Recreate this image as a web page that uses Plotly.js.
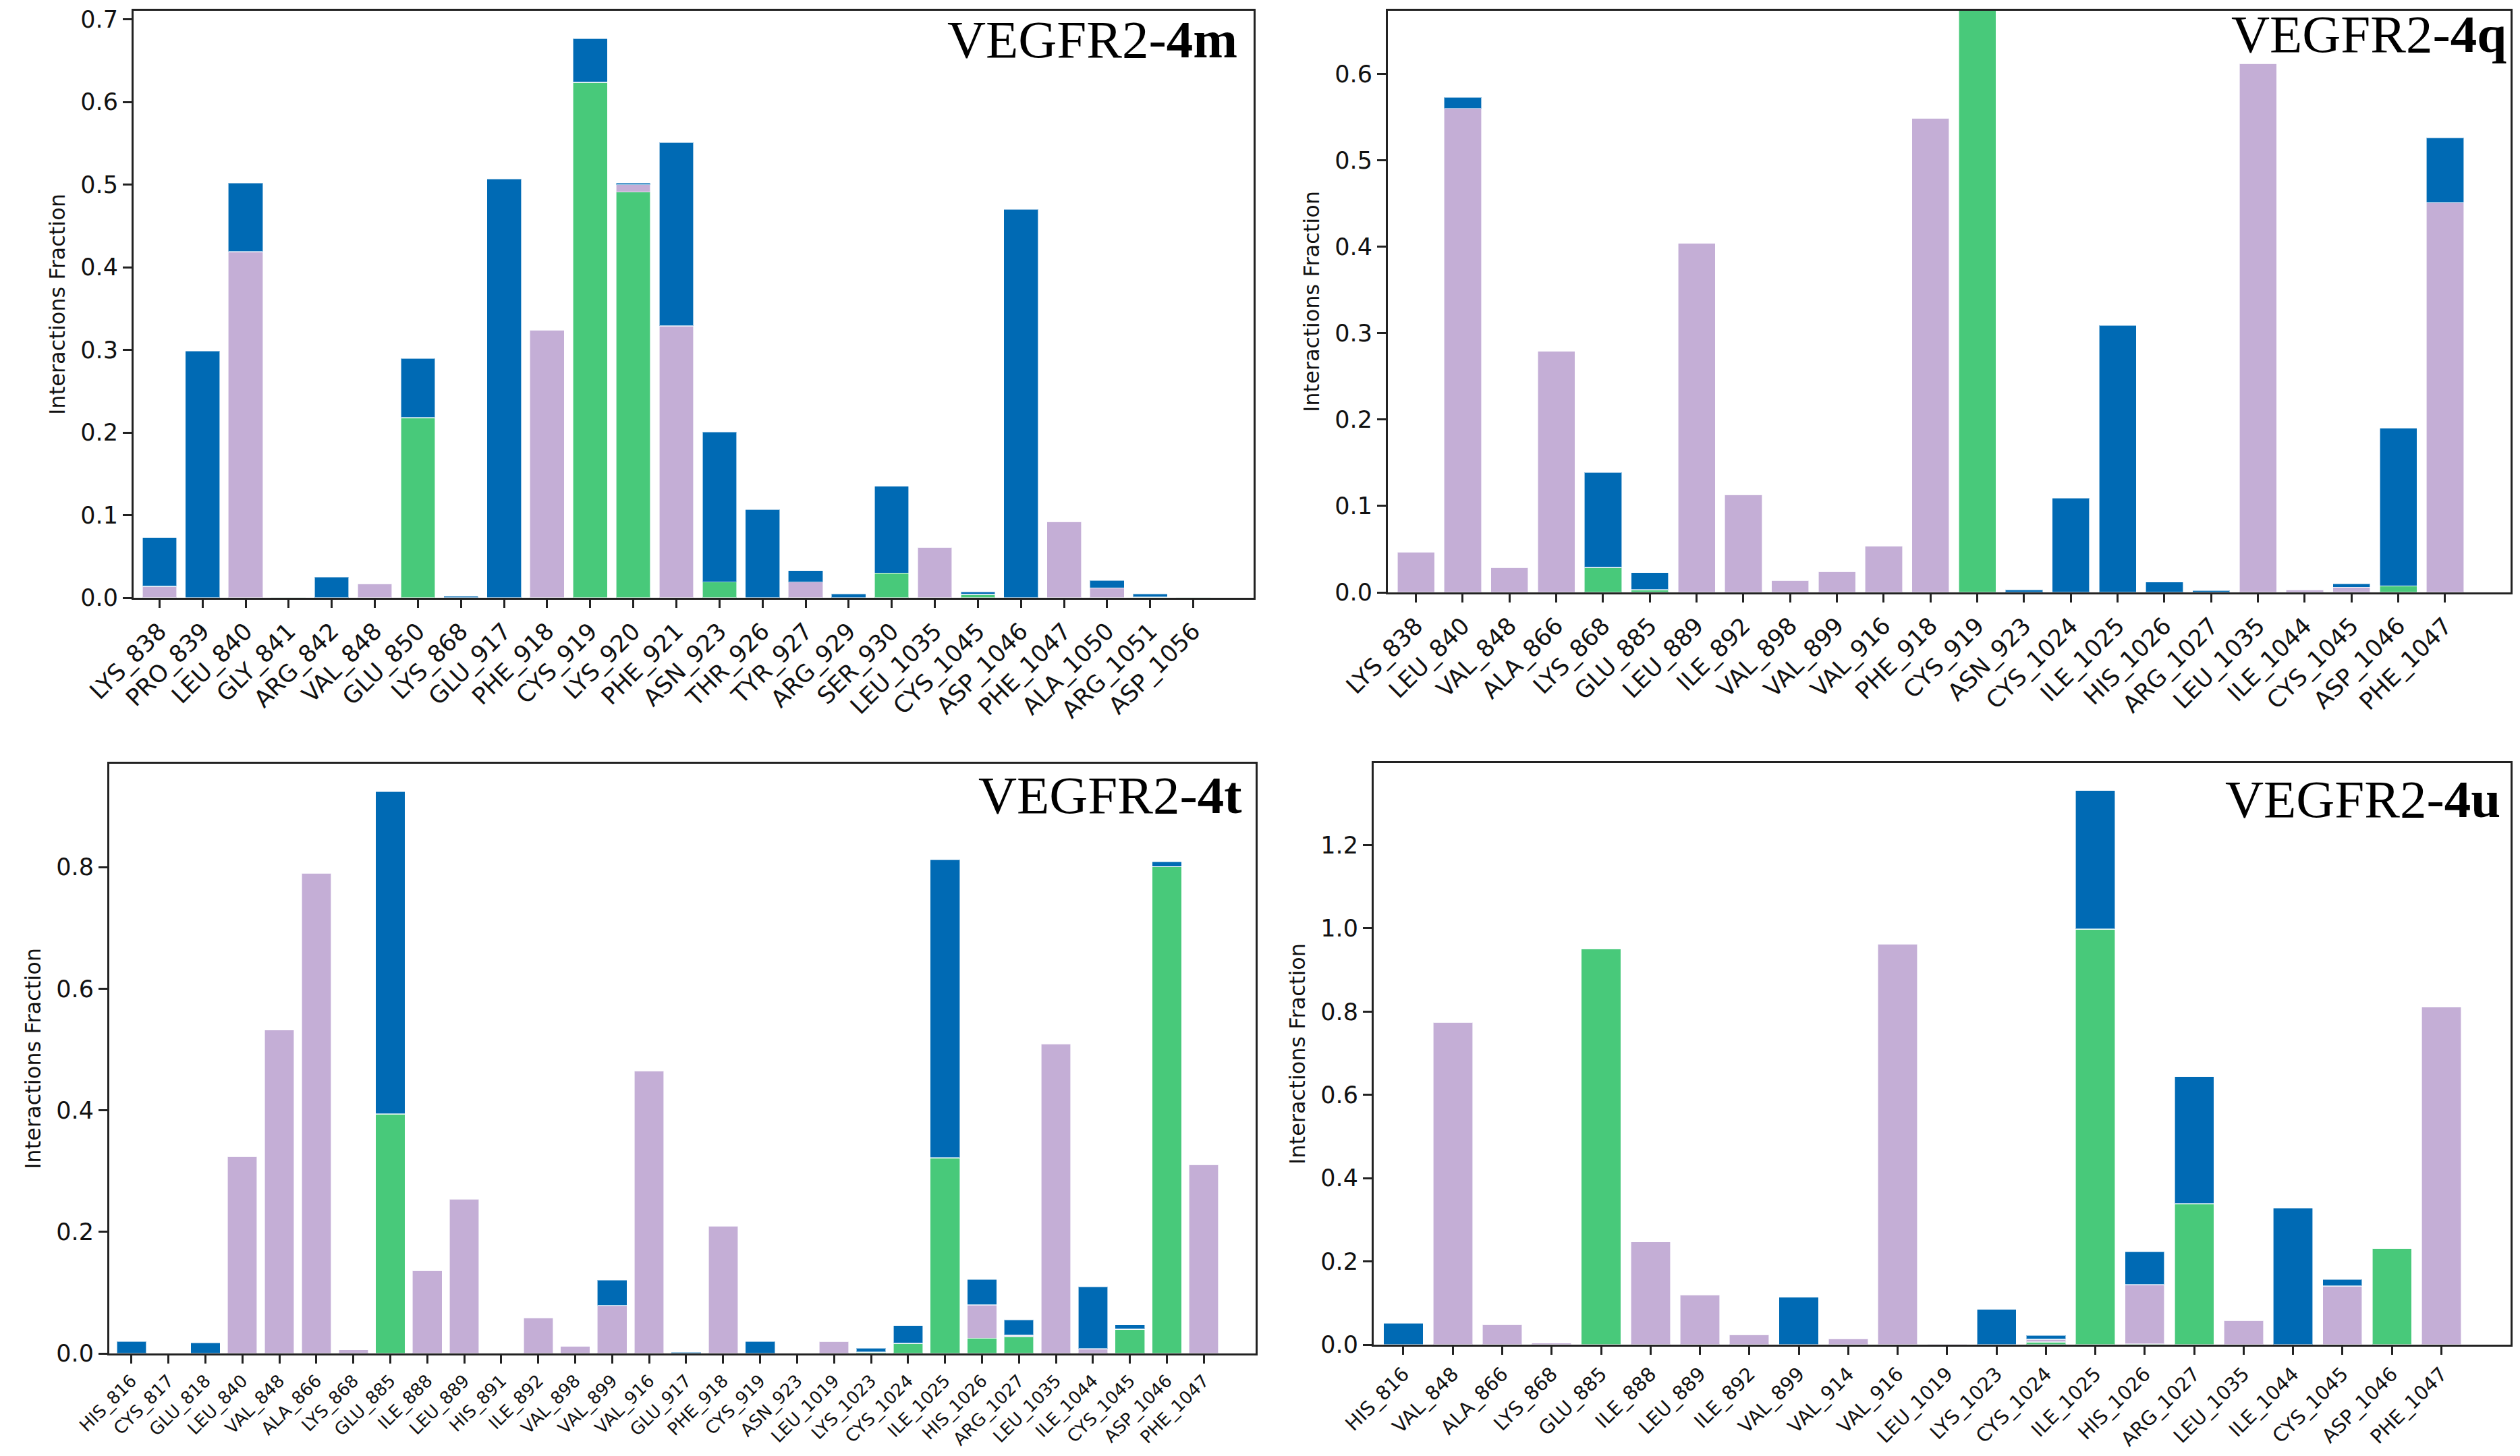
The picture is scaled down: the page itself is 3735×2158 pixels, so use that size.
<!DOCTYPE html>
<html>
<head>
<meta charset="utf-8">
<script src="https://cdn.plot.ly/plotly-3.0.1.min.js"></script>
<style>
html,body{margin:0;padding:0;background:#fff;}
#chart{width:3735px;height:2158px;}
</style>
</head>
<body>
<div id="chart"></div>
<script>
// ---------- DATA ----------
// Panel 1: VEGFR2-4m
const res4m = ["LYS_838","PRO_839","LEU_840","GLY_841","ARG_842","VAL_848","GLU_850","LYS_868","GLU_917","PHE_918","CYS_919","LYS_920","PHE_921","ASN_923","THR_926","TYR_927","ARG_929","SER_930","LEU_1035","CYS_1045","ASP_1046","PHE_1047","ALA_1050","ARG_1051","ASP_1056"];
const hb4m  = [0,0,0,0.001,0,0,0.218,0,0,0,0.624,0.491,0,0.019,0,0,0,0.030,0,0.004,0,0,0,0.001,0.001];
const hp4m  = [0.014,0,0.419,0,0,0.017,0,0,0,0.324,0,0.009,0.329,0,0,0.019,0,0,0.061,0,0,0.092,0.012,0,0];
const wb4m  = [0.059,0.299,0.083,0,0.0255,0,0.072,0.002,0.507,0,0.053,0.002,0.222,0.182,0.107,0.014,0.005,0.105,0,0.003,0.470,0,0.009,0.004,0];

// Panel 2: VEGFR2-4q
const res4q = ["LYS_838","LEU_840","VAL_848","ALA_866","LYS_868","GLU_885","LEU_889","ILE_892","VAL_898","VAL_899","VAL_916","PHE_918","CYS_919","ASN_923","CYS_1024","ILE_1025","HIS_1026","ARG_1027","LEU_1035","ILE_1044","CYS_1045","ASP_1046","PHE_1047"];
const hb4q  = [0,0,0,0,0.029,0.003,0,0,0,0,0,0,0.72,0,0,0,0,0,0,0,0,0.0075,0];
const hp4q  = [0.047,0.560,0.029,0.279,0,0,0.404,0.113,0.014,0.024,0.054,0.549,0,0,0,0,0,0,0.612,0.003,0.006,0,0.451];
const wb4q  = [0,0.013,0,0,0.110,0.020,0,0,0,0,0,0,0,0.003,0.109,0.309,0.012,0.002,0,0,0.004,0.1825,0.075];

// Panel 3: VEGFR2-4t
const res4t = ["HIS_816","CYS_817","GLU_818","LEU_840","VAL_848","ALA_866","LYS_868","GLU_885","ILE_888","LEU_889","HIS_891","ILE_892","VAL_898","VAL_899","VAL_916","GLU_917","PHE_918","CYS_919","ASN_923","LEU_1019","LYS_1023","CYS_1024","ILE_1025","HIS_1026","ARG_1027","LEU_1035","ILE_1044","CYS_1045","ASP_1046","PHE_1047"];
const hb4t  = [0,0,0,0,0,0,0,0.394,0,0,0,0,0,0,0,0,0,0,0,0,0.002,0.0165,0.322,0.025,0.028,0,0,0.040,0.801,0];
const hp4t  = [0,0,0,0.324,0.532,0.790,0.006,0,0.136,0.254,0,0.059,0.012,0.079,0.465,0,0.210,0,0,0.020,0,0,0,0.055,0.002,0.509,0.008,0,0,0.311];
const wb4t  = [0.0195,0,0.018,0,0,0,0,0.530,0,0,0,0,0,0.042,0,0.002,0,0.020,0,0,0.007,0.0295,0.490,0.042,0.025,0,0.102,0.007,0.008,0];

// Panel 4: VEGFR2-4u
const res4u = ["HIS_816","VAL_848","ALA_866","LYS_868","GLU_885","ILE_888","LEU_889","ILE_892","VAL_899","VAL_914","VAL_916","LEU_1019","LYS_1023","CYS_1024","ILE_1025","HIS_1026","ARG_1027","LEU_1035","ILE_1044","CYS_1045","ASP_1046","PHE_1047"];
const hb4u  = [0,0,0,0,0.951,0,0,0,0,0,0,0,0,0.0066,0.998,0.002,0.339,0,0,0,0.232,0];
const hp4u  = [0,0.774,0.048,0.004,0,0.247,0.120,0.024,0,0.014,0.963,0.001,0,0.0064,0,0.142,0,0.058,0,0.141,0,0.811];
const wb4u  = [0.052,0,0,0,0,0,0,0,0.114,0,0,0,0.085,0.009,0.333,0.079,0.305,0,0.328,0.016,0,0];

const panelNames = ["4m","4q","4t","4u"];
const yMax = [0.7104, 0.673, 0.97, 1.397];
const yStep = [0.1, 0.1, 0.2, 0.2];

// ---------- STYLE / LAYOUT ----------
const W = 3735, H = 2158;
const GREEN = "rgb(72,201,122)", LAV = "rgb(196,174,214)", BLUE = "rgb(0,106,180)";
// plot-area boxes in pixels: [left, right, top, bottom]
const boxes = [[198,1858,16,886],[2057,3721,16,878],[162,1861,1132,2006],[2036,3721,1131,1993]];
// title label: [right x px, center y px]
const titlePos = [[1836,59],[3717,50],[1843,1178],[3708,1184]];
const xTickSize = [35, 35, 26, 29];

const panels = [
  [res4m,hb4m,hp4m,wb4m],
  [res4q,hb4q,hp4q,wb4q],
  [res4t,hb4t,hp4t,wb4t],
  [res4u,hb4u,hp4u,wb4u]
];

const traces = [];
const layout = {
  width: W, height: H,
  margin: {l:0,r:0,t:0,b:0},
  paper_bgcolor: "#fff", plot_bgcolor: "#fff",
  barmode: "stack", bargap: 0.2,
  showlegend: false,
  font: {family: "DejaVu Sans", color: "#111"},
  annotations: []
};

panels.forEach((p, i) => {
  const [res, hb, hp, wb] = p;
  const k = i === 0 ? "" : String(i+1);
  const xa = "x"+k, ya = "y"+k;
  const series = [[hb, GREEN, "H-bonds"], [hp, LAV, "Hydrophobic"], [wb, BLUE, "Water bridges"]];
  series.forEach(s => {
    traces.push({
      type: "bar", x: res, y: s[0], name: s[2],
      xaxis: xa, yaxis: ya,
      marker: {color: s[1], line: {color: "rgba(255,255,255,0.6)", width: 1.5}},
      hoverinfo: "x+y+name"
    });
  });
  const b = boxes[i];
  const n = res.length;
  layout["xaxis"+k] = {
    domain: [b[0]/W, b[1]/W], anchor: ya,
    type: "category", range: [-0.6, n + 0.4],
    showline: true, linecolor: "#222", linewidth: 3, mirror: true,
    ticks: "outside", ticklen: 12, tickwidth: 3, tickcolor: "#222",
    tickangle: -45, tickfont: {family: "DejaVu Sans", size: xTickSize[i], color: "#111"},
    showgrid: false, zeroline: false, fixedrange: true
  };
  const tv = [];
  for (let v = 0; v <= yMax[i] + 1e-9; v = Math.round((v + yStep[i])*1000)/1000) tv.push(v);
  layout["yaxis"+k] = {
    domain: [1 - b[3]/H, 1 - b[2]/H], anchor: xa,
    range: [0, yMax[i]],
    tickmode: "array", tickvals: tv, ticktext: tv.map(v => v.toFixed(1)),
    showline: true, linecolor: "#222", linewidth: 3, mirror: true,
    ticks: "outside", ticklen: 13, tickwidth: 3, tickcolor: "#222",
    tickfont: {family: "DejaVu Sans", size: 35, color: "#111"},
    title: {text: "Interactions Fraction", font: {family: "DejaVu Sans", size: 32, color: "#111"}, standoff: 14},
    showgrid: false, zeroline: false, fixedrange: true
  };
  const t = titlePos[i];
  layout.annotations.push({
    xref: "paper", yref: "paper",
    x: t[0]/W, y: 1 - t[1]/H, xanchor: "right", yanchor: "middle",
    text: "VEGFR2-<b>" + panelNames[i] + "</b>", showarrow: false,
    font: {family: "Liberation Serif", size: 79, color: "#000"}
  });
});

Plotly.newPlot("chart", traces, layout, {displayModeBar: false, staticPlot: true});
</script>
</body>
</html>
